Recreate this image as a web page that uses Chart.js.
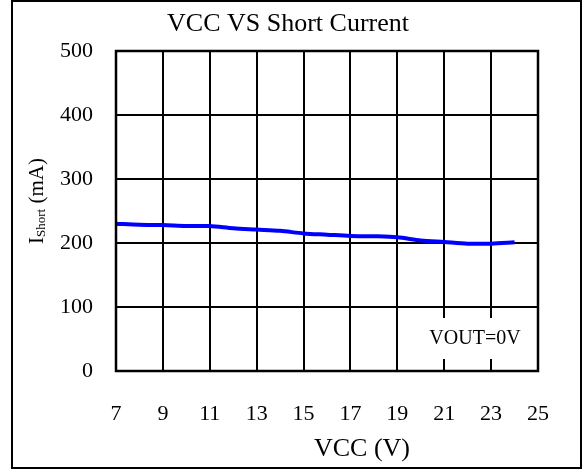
<!DOCTYPE html>
<html>
<head>
<meta charset="utf-8">
<script src="https://cdn.jsdelivr.net/npm/chart.js@4/dist/chart.umd.min.js"></script>
<style>
  html, body { margin: 0; padding: 0; background: #fff; }
  .chart-parent { width: 583px; height: 469px; }
</style>
</head>
<body>
<div class="chart-parent">
  <canvas id="myChart" width="583" height="469"></canvas>
</div>
<script>
// VCC (V)
const vcc = [7, 8, 9, 10, 11, 12, 13, 14, 15, 16, 17, 18, 19, 20, 21, 22, 23, 24];
// short current (mA)
const shortCurrent = [230, 228.5, 228, 226.5, 226.5, 223, 221, 219, 215, 213, 211, 210.5, 209, 204, 201.5, 199, 199, 201];
const xTicks = [7, 9, 11, 13, 15, 17, 19, 21, 23, 25];
const yTicks = [0, 100, 200, 300, 400, 500];

const serif = '"Liberation Serif", "DejaVu Serif", serif';

const decorations = {
  id: 'decorations',
  afterDraw(chart) {
    const c = chart.ctx;
    const area = chart.chartArea;
    c.save();
    c.fillStyle = '#000';

    // title
    c.font = '26px ' + serif;
    c.textAlign = 'center';
    c.textBaseline = 'middle';
    c.fillText('VCC VS Short Current', 288, 24);

    // x axis title
    c.fillText('VCC (V)', 362, 449);

    // y axis title with subscript
    c.save();
    c.translate(36, 201);
    c.rotate(-Math.PI / 2);
    c.textAlign = 'left';
    c.textBaseline = 'alphabetic';
    const big = '21px ' + serif, small = '13px ' + serif;
    c.font = big; const wI = c.measureText('I').width;
    c.font = small; const wS = c.measureText('Short').width;
    c.font = big; const wR = c.measureText(' (mA)').width;
    let x = -(wI + wS + wR) / 2;
    const base = 7;
    c.font = big; c.fillText('I', x, base); x += wI;
    c.font = small; c.fillText('Short', x, base + 2); x += wS;
    c.font = big; c.fillText(' (mA)', x, base);
    c.restore();

    // VOUT label box
    c.fillStyle = '#fff';
    c.fillRect(426, 318, 98, 41);
    c.fillStyle = '#000';
    c.font = '20px ' + serif;
    c.textAlign = 'center';
    c.textBaseline = 'middle';
    c.fillText('VOUT=0V', 475, 339);

    // plot border
    c.strokeStyle = '#000';
    c.lineWidth = 2.5;
    c.strokeRect(area.left, area.top, area.right - area.left, area.bottom - area.top);

    // outer frame
    c.lineWidth = 2;
    c.strokeRect(12, 1, 569, 467);
    c.restore();
  }
};

const ctx = document.getElementById('myChart');
new Chart(ctx, {
  type: 'line',
  data: {
    datasets: [{
      data: vcc.map((v, i) => ({ x: v, y: shortCurrent[i] })),
      borderColor: '#0000ff',
      borderWidth: 4,
      tension: 0.3,
      pointRadius: 0,
      fill: false
    }]
  },
  options: {
    responsive: false,
    animation: false,
    layout: { padding: { left: 0, right: 45, top: 51, bottom: 0 } },
    plugins: {
      legend: { display: false },
      tooltip: { enabled: false },
      title: { display: false }
    },
    scales: {
      x: {
        type: 'linear',
        min: 7,
        max: 25,
        afterFit(scale) { scale.height = 98; },
        afterBuildTicks(scale) { scale.ticks = xTicks.map(v => ({ value: v })); },
        grid: { color: '#000', lineWidth: 2, drawTicks: false },
        border: { display: false },
        ticks: {
          padding: 30,
          color: '#000',
          font: { family: serif, size: 22 },
          maxRotation: 0
        }
      },
      y: {
        min: 0,
        max: 500,
        afterFit(scale) { scale.width = 116; },
        afterBuildTicks(scale) { scale.ticks = yTicks.map(v => ({ value: v })); },
        grid: { color: '#000', lineWidth: 2, drawTicks: false },
        border: { display: false },
        ticks: {
          padding: 23,
          color: '#000',
          font: { family: serif, size: 22 }
        }
      }
    }
  },
  plugins: [decorations]
});
</script>
</body>
</html>
